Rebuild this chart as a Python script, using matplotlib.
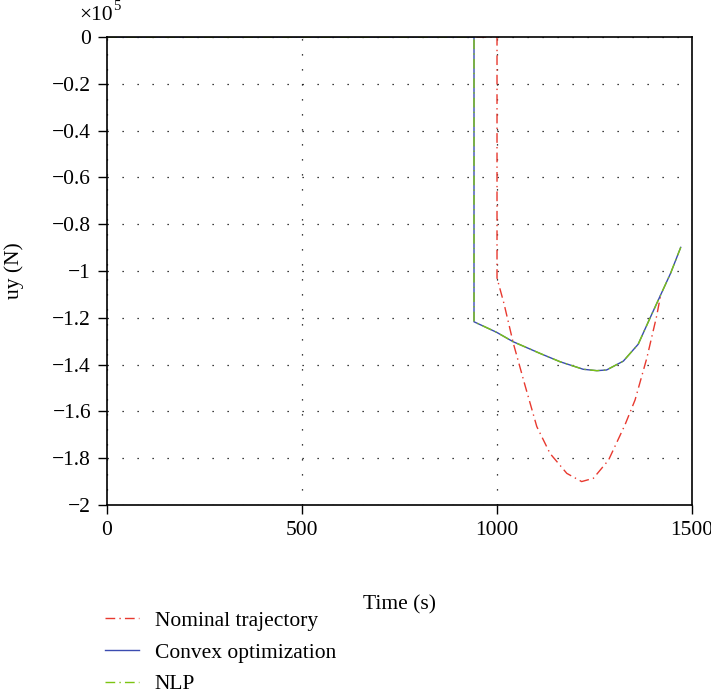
import matplotlib
matplotlib.use("Agg")
import matplotlib.pyplot as plt
from matplotlib.ticker import FuncFormatter

# values (uy in units of 1e5 N)
t_nominal = [0, 1000, 1000, 1018, 1042, 1072, 1102, 1136, 1179, 1217, 1247,
             1286, 1328, 1354, 1384, 1409, 1420]
u_nominal = [0, 0, -1.03, -1.14, -1.31, -1.49, -1.665, -1.78, -1.865, -1.90,
             -1.886, -1.808, -1.658, -1.551, -1.373, -1.195, -1.10]

t_convex = [0, 941, 941, 999, 1041, 1110, 1162, 1221, 1256, 1281, 1324, 1362,
            1394, 1445, 1471]
u_convex = [0, 0, -1.217, -1.262, -1.302, -1.352, -1.388, -1.42, -1.426,
            -1.423, -1.385, -1.313, -1.195, -1.01, -0.899]

t_nlp = [0, 941, 941, 999, 1041, 1110, 1162, 1221, 1256, 1281, 1324, 1362,
         1394, 1445, 1471]
u_nlp = [0, 0, -1.217, -1.262, -1.302, -1.352, -1.388, -1.42, -1.426,
         -1.423, -1.385, -1.313, -1.195, -1.01, -0.899]

x_ticks = [0, 500, 1000, 1500]
y_ticks = [0, -0.2, -0.4, -0.6, -0.8, -1, -1.2, -1.4, -1.6, -1.8, -2]

plt.rcParams['font.family'] = ['Liberation Serif', 'DejaVu Serif']
FS = 15.5

fig = plt.figure(figsize=(7.11, 6.97), dpi=100)
ax = fig.add_axes([0.1505, 0.2755, 0.8228, 0.6714])

ax.plot(t_nominal, u_nominal, color='#e8392f', lw=1.0, dashes=(7, 3, 1, 3),
        label='Nominal trajectory')
ax.plot(t_convex, u_convex, color='#3b4cb0', lw=1.0, label='Convex optimization')
ax.plot(t_nlp, u_nlp, color='#7cc412', lw=1.0, dashes=(7, 3, 1, 3), label='NLP')

ax.set_xlim(0, 1500)
ax.set_ylim(-2, 0)
ax.set_xticks(x_ticks)
ax.set_yticks(y_ticks)


def fmt(v, pos):
    s = '{:g}'.format(round(v, 2))
    return s.replace('-', '\u2212')


ax.yaxis.set_major_formatter(FuncFormatter(fmt))
ax.tick_params(direction='out', length=6.5, width=1.0, labelsize=FS, pad=5,
               top=False, right=False)
ax.grid(True, color='black', linestyle=(0, (1, 11)), linewidth=0.9)
for s in ax.spines.values():
    s.set_linewidth(1.2)

ax.set_xlabel('Time (s)', fontsize=FS, labelpad=40)
ax.set_ylabel('uy (N)', fontsize=FS, labelpad=20)

# exponent note above the y axis
fig.text(0.111, 0.978, '\u00d710', fontsize=FS, ha='left', va='center')
fig.text(0.159, 0.99, '5', fontsize=10.5, ha='left', va='center')

ax.legend(loc='upper left', bbox_to_anchor=(0.148, 0.124),
          bbox_transform=fig.transFigure, frameon=False, fontsize=FS,
          handlelength=1.55, handletextpad=0.75, labelspacing=0.55,
          borderpad=0, borderaxespad=0)

plt.savefig('out.png', dpi=100)
